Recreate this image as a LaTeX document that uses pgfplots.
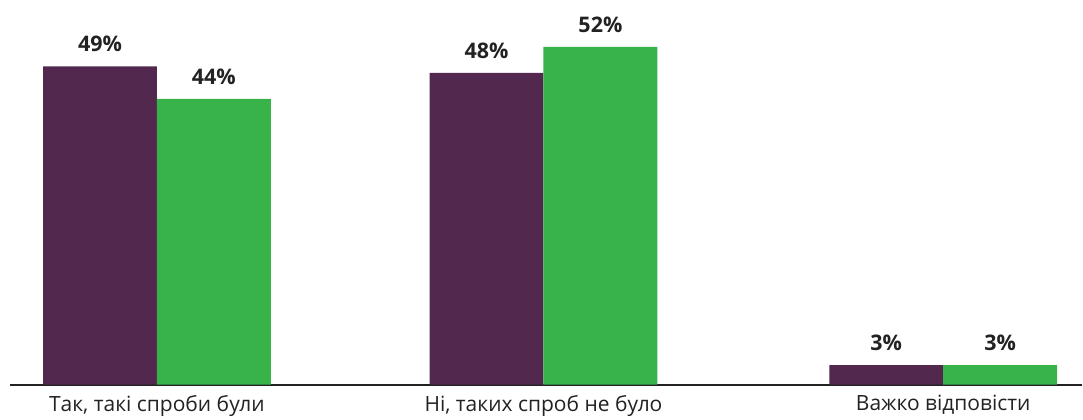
\documentclass[border=0pt]{standalone}
\usepackage{pgfplots}
\pgfplotsset{compat=1.18}
\usepackage{fontspec}
\setmainfont{Open Sans}
\definecolor{purp}{HTML}{52284F}
\definecolor{grn}{HTML}{37B34A}
\definecolor{txt}{HTML}{222222}
\begin{document}
\begin{tikzpicture}
\begin{axis}[
    scale only axis,
    width=1073pt,
    height=385pt,
    ybar=0pt,
    bar width=114pt,
    ymin=0, ymax=59.2,
    xmin=-0.38, xmax=2.393,
    xtick={0,1,2.034},
    xticklabels={{Так, такі спроби були}, {Ні, таких спроб не було}, {Важко відповісти}},
    xticklabel style={font=\fontsize{21}{24}\selectfont, text=txt, yshift=-7pt},
    major tick length=0pt,
    ytick=\empty,
    axis x line*=bottom,
    axis y line=none,
    x axis line style={draw=txt, line width=2pt, -},
    nodes near coords={\pgfmathprintnumber{\pgfplotspointmeta}\%},
    every node near coord/.append style={font=\fontsize{21.5}{24}\selectfont\bfseries, text=txt, yshift=11pt},
    /pgf/number format/assume math mode=true,
    clip=false,
]
\addplot[fill=purp, draw=none] coordinates {(0,49) (1,48) (2.034,3)};
\addplot[fill=grn, draw=none] coordinates {(0,44) (1,52) (2.034,3)};
\end{axis}
\path (-10pt,-31pt) rectangle (1073pt,385pt);
\end{tikzpicture}
\end{document}
